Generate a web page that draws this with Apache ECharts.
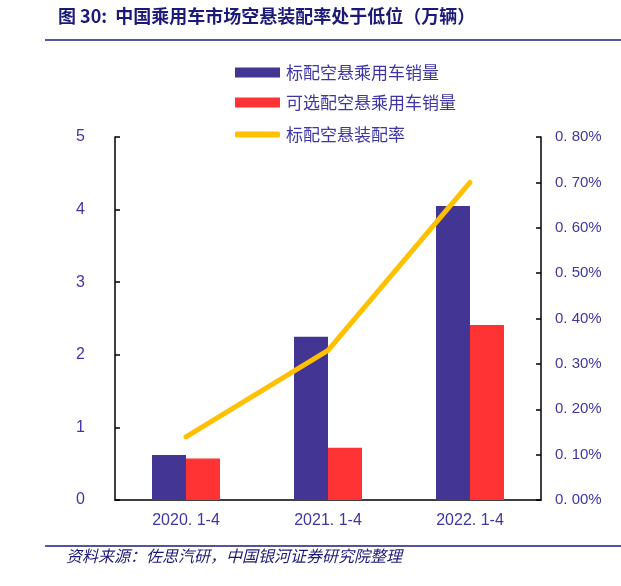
<!DOCTYPE html>
<html><head><meta charset="utf-8">
<script src="https://cdn.jsdelivr.net/npm/echarts@6/dist/echarts.min.js"></script>
<style>html,body{margin:0;padding:0;background:#fff}#c{width:621px;height:586px}</style>
</head><body><div id="c"></div>
<script>
const categories = ['2020. 1-4', '2021. 1-4', '2022. 1-4'];
const standardSales = [0.62, 2.25, 4.05];
const optionalSales = [0.57, 0.72, 2.41];
const fitRate = [0.139, 0.33, 0.70];
const seriesNames = ['标配空悬乘用车销量', '可选配空悬乘用车销量', '标配空悬装配率'];
const titleText = '图 30:  中国乘用车市场空悬装配率处于低位（万辆）';
const sourceText = '资料来源：佐思汽研，中国银河证券研究院整理';

const labelColor = '#3f36a4';
const cjk = '"Noto Sans CJK SC", sans-serif';
const chart = echarts.init(document.getElementById('c'));
const legendBase = {orient: 'vertical', itemWidth: 45, itemHeight: 10, itemGap: 6, padding: 0,
  textStyle: {color: labelColor, fontSize: 17, fontFamily: cjk, padding: [0,0,0,1]}};
chart.setOption({
  animation: false,
  graphic: [
    {type: 'text', left: 58, top: 7, style: {text: titleText, font: 'bold 18px ' + cjk, fill: '#1c1a78'}},
    {type: 'line', shape: {x1: 45, y1: 40, x2: 621, y2: 40}, style: {stroke: '#1c1a78', lineWidth: 1.5}},
    {type: 'line', shape: {x1: 45, y1: 546, x2: 621, y2: 546}, style: {stroke: '#1c1a78', lineWidth: 1.5}},
    {type: 'text', left: 66, top: 548, style: {text: sourceText, font: 'italic 16px ' + cjk, fill: '#1c1a78'}}
  ],
  legend: [
    Object.assign({}, legendBase, {left: 235, top: 64, data: [{name: seriesNames[0], icon: 'rect'}]}),
    Object.assign({}, legendBase, {left: 235, top: 94, data: [{name: seriesNames[1], icon: 'rect'}]}),
    Object.assign({}, legendBase, {left: 235, top: 126, itemHeight: 6, data: [{name: seriesNames[2], icon: 'roundRect'}]})
  ],
  grid: {left: 115, right: 80, top: 137, bottom: 86},
  xAxis: {
    type: 'category', data: categories,
    axisLine: {lineStyle: {color: '#000', width: 1.5}},
    axisTick: {inside: true, length: 5, lineStyle: {color: '#000', width: 1.5}},
    axisLabel: {color: labelColor, fontSize: 16, fontFamily: 'Arial, "Liberation Sans", sans-serif', margin: 13}
  },
  yAxis: [
    {type: 'value', min: 0, max: 5, interval: 1,
      axisLine: {show: true, lineStyle: {color: '#000', width: 1.5}},
      axisTick: {show: true, inside: true, length: 5, lineStyle: {color: '#000', width: 1.5}},
      splitLine: {show: false},
      axisLabel: {color: labelColor, fontSize: 16, fontFamily: 'Arial, "Liberation Sans", sans-serif', margin: 30}},
    {type: 'value', min: 0, max: 0.8, interval: 0.1,
      axisLine: {show: true, lineStyle: {color: '#000', width: 1.5}},
      axisTick: {show: true, inside: true, length: 5, lineStyle: {color: '#000', width: 1.5}},
      splitLine: {show: false},
      axisLabel: {color: labelColor, fontSize: 15, fontFamily: 'Arial, "Liberation Sans", sans-serif', margin: 14,
        formatter: v => v.toFixed(2).replace('.', '. ') + '%'}}
  ],
  series: [
    {name: seriesNames[0], type: 'bar', data: standardSales, barWidth: 34, barGap: '0%',
      itemStyle: {color: '#433594'}},
    {name: seriesNames[1], type: 'bar', data: optionalSales, barWidth: 34, barGap: '0%',
      itemStyle: {color: '#ff3333'}},
    {name: seriesNames[2], type: 'line', yAxisIndex: 1, data: fitRate, symbol: 'none',
      lineStyle: {color: '#ffc000', width: 5, cap: 'round'}, itemStyle: {color: '#ffc000'}}
  ]
});
</script></body></html>
